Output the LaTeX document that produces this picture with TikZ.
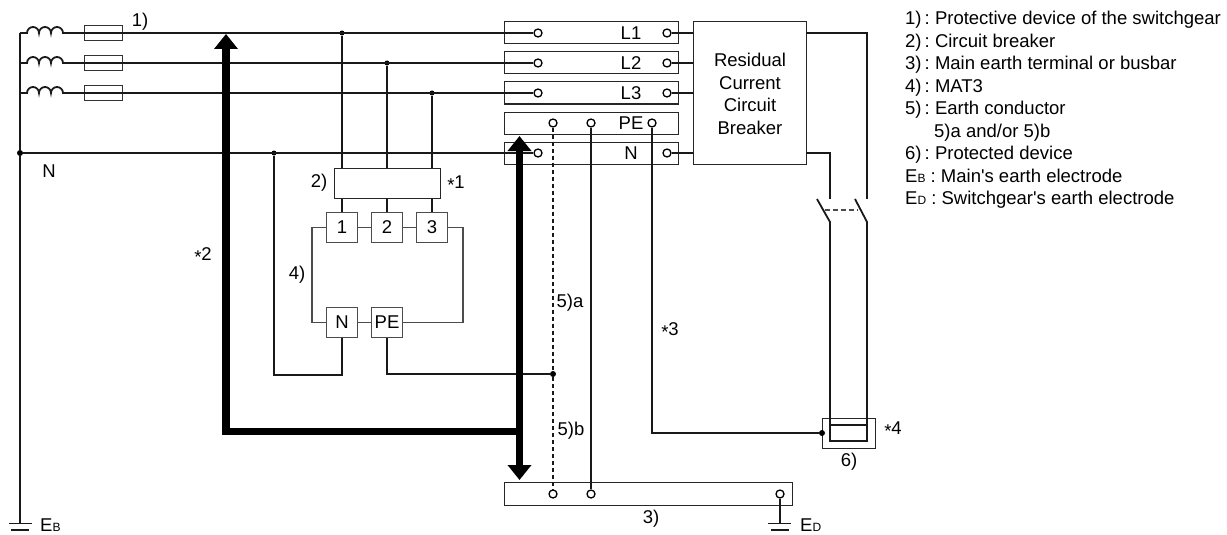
\documentclass[tikz,border=0pt]{standalone}
\usepackage{fontspec}
\setmainfont{Liberation Sans}
\newfontfamily\plainfont{Liberation Sans}
\usetikzlibrary{arrows.meta}
\newcommand{\Esub}[1]{E{\fontsize{12}{14}\selectfont #1}}
\newcommand{\Star}[1]{\raisebox{-3pt}{*}#1}
\newcommand{\Apos}{{\plainfont'}}
\newcommand{\Sep}{\,:\ }
\tikzset{
    wire/.style={line width=1.8pt, black!90},
    thinwire/.style={line width=1.2pt, black!70},
    heavy/.style={line width=7.5pt, -{Triangle[length=15pt,width=23pt]}},
    bar/.style={draw, line width=1pt, black!85, rectangle, inner sep=0pt},
    fuse/.style={draw, line width=1.2pt, black!80, rectangle, inner sep=0pt, minimum width=37.5pt, minimum height=15pt},
    term/.style={draw, line width=1.3pt, circle, fill=white, inner sep=0pt, minimum size=8pt},
    dot/.style={fill=black, circle, inner sep=0pt, minimum size=6pt},
    cell/.style={draw, line width=1.2pt, black!70, text=black, rectangle, inner sep=0pt, minimum size=30.5pt},
    lbl/.style={inner sep=0pt}
}

\begin{document}
\begin{tikzpicture}[x=1pt, y=-1pt, font=\fontsize{18.5}{22.5}\selectfont]
    \useasboundingbox (0,0) rectangle (1227,535);

    % busbars
    \foreach \n/\t/\y in {L1/L1/33, L2/L2/63, L3/L3/93, PEbar/PE/123, Nbar/N/153}{
        \node[bar, minimum width=174pt, minimum height=22pt] (\n) at (591,\y) {};
        \node[lbl] (\n text) at (631,\y+0.5) {\t};
    }
    \node[bar, minimum width=288pt, minimum height=23pt] (main) at (648,493.5) {};
    \node[bar, minimum width=113pt, minimum height=142pt] (rccb) at (749.5,93) {};
    \node[lbl, align=center, text=black] (rccbtext) at (750,94) {Residual\\Current\\Circuit\\Breaker};

    % supply side
    \coordinate (earthB) at (20,523);
    \node[dot] (nstart) at (20,153) {};
    \draw[wire] (20,33) -- (nstart) -- (earthB);
    \draw[wire] (9,523.5) -- (32,523.5);
    \draw[wire] (11,530) -- (29,530);
    \foreach \n/\y/\x in {1/33/342, 2/63/387, 3/93/432}{
        \node[fuse] (fuse\n) at (103.5,\y) {};
        \node[term] (inL\n) at (538,\y) {};
        \node[term] (outL\n) at (667,\y) {};
        \node[dot, minimum size=5pt] (tap\n) at (\x,\y) {};
        \coordinate (rccbin\n) at (rccb.west |- inL\n);
        \draw[wire] (20,\y) -- (27,\y) arc[start angle=180, end angle=360, x radius=6, y radius=6]
            arc[start angle=180, end angle=360, x radius=6, y radius=6]
            arc[start angle=180, end angle=360, x radius=6, y radius=6] -- (fuse\n.west);
        \draw[wire] (fuse\n.west) -- (inL\n.west);
        \draw[wire] (outL\n.east) -- (rccbin\n);
    }

    % neutral
    \node[term] (inN) at (538,153) {};
    \node[term] (outN) at (667,153) {};
    \node[dot, minimum size=5pt] (tapN) at (274,153) {};
    \draw[wire] (nstart) -- (inN.west);
    \draw[wire] (outN.east) -- (rccb.west |- outN);

    % breaker and MAT3
    \node[bar, minimum width=106pt, minimum height=30pt] (breaker) at (387,183) {};
    \node[cell] (c1) at (342,227.5) {1};
    \node[cell] (c2) at (387,227.5) {2};
    \node[cell] (c3) at (432,227.5) {3};
    \node[cell] (cN) at (342,322.5) {N};
    \node[cell] (cPE) at (387,322.5) {PE};
    \foreach \n in {1,2,3}{
        \draw[wire] (tap\n) -- (breaker.north -| c\n);
        \draw[wire] (breaker.south -| c\n) -- (c\n.north);
    }
    \draw[thinwire] (c1) -- (c2);
    \draw[thinwire] (c2) -- (c3);
    \draw[thinwire] (cN) -- (cPE);
    \draw[thinwire] (c1.west) -| (312,322.5) -- (cN.west);
    \draw[thinwire] (c3.east) -| (463,322.5) -- (cPE.east);

    % earth conductors
    \node[term] (pe1) at (553,123) {};
    \node[term] (pe2) at (591,123) {};
    \node[term] (pe3) at (652,123) {};
    \node[term] (m1) at (553,494) {};
    \node[term] (m2) at (591,494) {};
    \node[term] (m3) at (780,494) {};
    \node[dot] (joint) at (553,374) {};
    \coordinate (nlow) at (342,375);
    \draw[wire] (tapN) |- (nlow) -- (cN.south);
    \draw[wire] (cPE.south) |- (joint);
    \draw[wire, dash pattern=on 4pt off 3pt] (pe1) -- (joint);
    \draw[wire, dash pattern=on 4pt off 3pt] (joint) -- (m1);
    \draw[wire] (pe2) -- (m2);
    \coordinate (earthD) at (780,523);
    \draw[wire] (m3) -- (earthD);
    \draw[wire] (768,523.5) -- (791,523.5);
    \draw[wire] (771,530) -- (789,530);

    % load side
    \node[bar, minimum width=53pt, minimum height=30pt] (device) at (848.5,433) {};
    \node[dot] (devdot) at (822,433) {};
    \draw[wire] (pe3) |- (devdot);
    \draw[wire] (806,33) -- (867,33) -- (867,199);
    \draw[wire] (806,153) -- (830,153) -- (830,199);
    \draw[wire] (817,199) -- (830,222) -- (830,441) -- (867,441) -- (867,222) -- (855,199);
    \draw[thinwire, dash pattern=on 5pt off 3pt] (825,210) -- (858,210);
    \draw[wire] (830,425) -- (867,425);

    % heavy arrows
    \coordinate (corner) at (226,431);
    \coordinate (drop) at (519.5,431);
    \draw[heavy] (corner) -- (226,34);
    \draw[heavy] (drop) -- (519.5,136);
    \draw[heavy] (drop) -- (519.5,480);
    \draw[line width=7pt] (222.25,431) -- (drop);

    % labels
    \node[lbl] (n1) at (140,22) {1)};
    \node[lbl] (nN) at (49,171) {N};
    \node[lbl] (n2) at (319,183) {2)};
    \node[lbl] (s1) at (456,184) {\Star{1}};
    \node[lbl] (n4) at (297,275) {4)};
    \node[lbl] (s2) at (203,256) {\Star{2}};
    \node[lbl] (n5a) at (570,303) {5)a};
    \node[lbl] (s3) at (670,331) {\Star{3}};
    \node[lbl] (n5b) at (571,431) {5)b};
    \node[lbl] (s4) at (893,430) {\Star{4}};
    \node[lbl] (n6) at (849,462) {6)};
    \node[lbl] (n3) at (651,519) {3)};
    \node[lbl, anchor=base west] (eb) at (40,531.5) {\Esub{B}};
    \node[lbl, anchor=base west] (ed) at (800,531.5) {\Esub{D}};

    % legend
    \node[lbl, anchor=north west, align=left] (legend) at (905,11) {%
        1)\Sep Protective device of the switchgear\\
        2)\Sep Circuit breaker\\
        3)\Sep Main earth terminal or busbar\\
        4)\Sep MAT3\\
        5)\Sep Earth conductor\\
        \hspace*{29pt}5)a and/or 5)b\\
        6)\Sep Protected device\\
        \Esub{B} : Main\Apos s earth electrode\\
        \Esub{D} : Switchgear\Apos s earth electrode};
\end{tikzpicture}
\end{document}
